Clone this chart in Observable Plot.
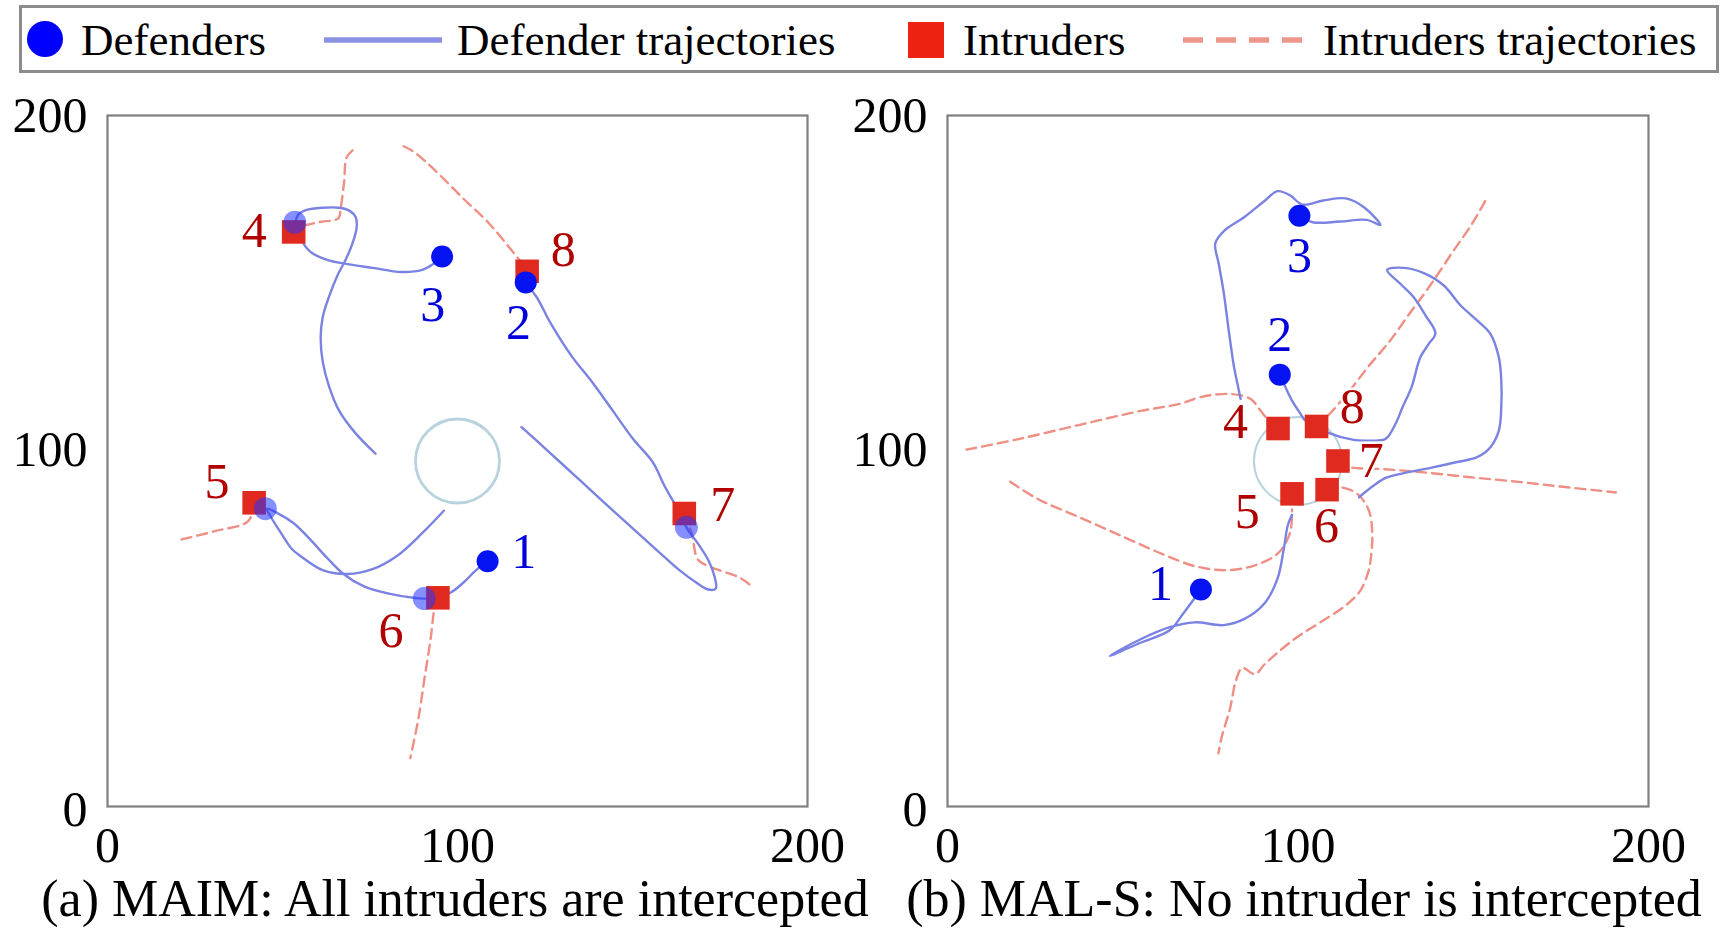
<!DOCTYPE html>
<html>
<head>
<meta charset="utf-8">
<script src="https://cdn.jsdelivr.net/npm/d3@7"></script>
<script src="https://cdn.jsdelivr.net/npm/@observablehq/plot@0.6"></script>
<style>
html, body { margin: 0; padding: 0; background: #fff; }
#fig { position: relative; width: 1732px; height: 934px; overflow: hidden; background: #fff;
  font-family: "Liberation Serif", "Times New Roman", serif; }
#fig > svg, #fig > div { position: absolute; }
</style>
</head>
<body>
<div id="fig"></div>
<script>
// ---------------- Legend & captions ----------------
const legendLabels = ["Defenders", "Defender trajectories", "Intruders", "Intruders trajectories"];
const captions = ["(a) MAIM: All intruders are intercepted", "(b) MAL-S: No intruder is intercepted"];
const xTicks = [0, 100, 200];
const yTicksEnds = [0, 200];
const yTickMid = [100];
const targetCenter = [[100, 100]];

// ---------------- Panel (a): MAIM ----------------
const aDefenderId = ["1", "2", "3"];
const aDefenderX = [108.6, 119.5, 95.6];
const aDefenderY = [71.0, 151.7, 159.2];
const aDefLabelX = [118.9, 117.4, 92.9];
const aDefLabelY = [73.8, 140.0, 145.2];
const aIntruderId = ["4", "5", "6", "7", "8"];
const aIntruderX = [53.2, 41.9, 94.4, 164.8, 119.9];
const aIntruderY = [166.3, 87.9, 60.4, 84.8, 154.9];
const aIntLabelX = [41.9, 31.3, 81.0, 175.8, 130.2];
const aIntLabelY = [166.7, 93.8, 50.7, 87.3, 161.2];
// defenders at interception moments (translucent)
const aCaptureX = [53.5, 45.1, 90.5, 165.4];
const aCaptureY = [169.1, 86.2, 60.2, 80.8];

const aDefTraj1 = [[96.1,85.6],[89.9,79.1],[82.8,72.6],[75.7,68.7],[68.6,67.3],[61.5,68.4],[55.0,72.6],[52.6,74.6],[49.6,79.1],[46.7,83.8],[45.5,86.2],[48.4,85.0],[53.2,82.0],[57.9,77.3],[62.7,72.0],[67.4,67.3],[73.3,63.7],[80.4,61.6],[87.5,60.4],[93.5,60.2],[98.2,62.0],[101.8,64.9],[105.3,68.4],[108.6,71.0]];
const aDefTraj2 = [[118.3,109.8],[125.4,103.3],[133.7,95.6],[142.0,87.9],[150.3,80.3],[157.4,73.8],[163.4,68.4],[168.1,64.9],[171.6,62.8],[173.8,63.1],[173.4,66.7],[171.6,71.4],[168.7,76.1],[165.7,80.3],[162.8,86.2],[159.2,92.7],[155.7,99.8],[150.3,106.2],[144.4,114.5],[138.5,122.8],[132.5,130.5],[126.6,139.9],[122.5,147.6],[120.1,150.5]];
const aDefTraj3 = [[76.6,102.1],[70.9,108.0],[66.2,114.5],[63.3,121.6],[61.5,128.7],[60.9,135.8],[61.5,141.7],[63.3,147.6],[65.6,153.5],[68.0,158.2],[70.0,163.0],[71.2,167.7],[70.9,170.6],[69.2,172.4],[66.2,173.3],[61.5,173.3],[56.7,172.6],[54.4,171.2],[53.8,168.3],[55.0,164.7],[57.9,160.6],[62.7,158.2],[68.6,157.0],[75.7,155.9],[84.0,154.7],[89.9,155.3],[93.5,157.3],[95.6,159.2]];
const aIntTraj4 = [[70.0,189.9],[68.3,187.8],[67.6,180.7],[66.6,173.0],[66.0,170.3],[60.3,169.1],[55.0,167.7],[53.2,166.3]];
const aIntTraj5 = [[21.2,77.3],[30.7,79.7],[40.2,82.6],[41.9,87.9]];
const aIntTraj6 = [[94.4,60.4],[93.5,57.8],[92.3,48.4],[90.5,36.6],[88.7,24.7],[86.5,14.0]];
const aIntTraj7 = [[164.8,84.8],[166.9,79.1],[168.7,71.4],[171.6,69.6],[180.9,66.1],[183.7,64.0]];
const aIntTraj8 = [[84.6,191.1],[87.5,189.5],[93.5,184.2],[101.7,175.9],[108.9,168.9],[114.8,161.8],[118.9,156.5],[119.9,154.9]];

// ---------------- Panel (b): MAL-S ----------------
const bDefenderId = ["1", "2", "3"];
const bDefenderX = [72.3, 94.8, 100.4];
const bDefenderY = [62.8, 125.0, 171.0];
const bDefLabelX = [60.8, 94.8, 100.4];
const bDefLabelY = [64.3, 136.4, 159.4];
const bIntruderId = ["4", "5", "6", "7", "8"];
const bIntruderX = [94.3, 98.3, 108.3, 111.4, 105.3];
const bIntruderY = [109.4, 90.5, 91.7, 100.0, 110.0];
const bIntLabelX = [82.2, 85.5, 108.1, 120.9, 115.5];
const bIntLabelY = [111.2, 85.2, 81.3, 99.9, 115.6];
const bCaptureX = [];
const bCaptureY = [];

const bDefTraj1 = [[98.3,84.4],[97.1,81.4],[95.9,74.3],[94.2,66.1],[90.6,59.0],[84.7,54.3],[78.8,52.5],[70.5,53.3],[63.4,51.9],[55.1,48.4],[46.3,43.6],[55.1,47.4],[63.4,51.0],[67.0,55.5],[72.3,62.8]];
const bDefTraj2 = [[117.4,89.5],[121.6,92.9],[125.0,95.1],[130.2,96.5],[137.8,98.0],[145.4,99.7],[151.1,101.1],[154.9,104.0],[157.3,108.8],[158.0,115.6],[158.0,123.3],[157.3,130.0],[154.9,136.8],[151.1,140.7],[146.4,145.0],[141.6,150.8],[135.9,154.4],[130.2,155.9],[125.4,155.3],[129.2,151.3],[133.0,147.4],[136.4,142.1],[139.2,137.0],[137.3,133.9],[134.9,130.0],[132.4,121.4],[129.8,115.5],[127.8,110.7],[125.0,106.4],[120.5,105.9],[115.9,106.1],[108.3,108.3],[102.1,111.7],[100.7,113.7],[98.3,117.5],[96.4,121.4],[94.8,125.0]];
const bDefTraj3 = [[83.6,118.0],[82.9,121.5],[81.7,127.5],[80.2,138.1],[78.8,148.8],[77.4,157.0],[76.4,163.0],[78.8,166.5],[84.7,170.6],[90.6,175.4],[94.2,178.1],[97.7,176.9],[101.3,174.2],[107.2,175.4],[113.7,176.0],[119.0,173.3],[123.5,168.3],[119.6,169.8],[111.9,169.3],[104.2,169.1],[100.4,171.0]];
const bIntTraj4 = [[5.4,103.3],[19.6,106.2],[37.4,110.4],[55.1,114.5],[66.5,116.6],[72.2,118.5],[80.7,119.4],[86.4,118.0],[89.3,114.6],[91.2,112.2],[94.3,109.4]];
const bIntTraj5 = [[17.9,94.0],[25.6,89.1],[37.4,83.8],[49.2,78.5],[61.0,73.2],[70.5,69.6],[78.8,68.4],[87.1,69.6],[94.2,73.2],[97.7,79.1],[98.3,86.0]];
const bIntTraj6 = [[108.3,91.7],[112.1,92.4],[116.9,90.5],[120.2,85.7],[121.2,78.9],[120.7,71.2],[120.2,68.4],[117.8,62.5],[113.1,57.8],[106.0,53.1],[98.9,48.4],[90.6,41.3],[87.7,38.3],[84.1,40.1],[82.3,36.5],[80.6,28.3],[78.2,20.0],[77.3,15.4]];
const bIntTraj7 = [[111.4,100.0],[115.0,98.2],[123.5,97.7],[134.9,96.8],[149.2,95.3],[163.5,93.9],[174.9,92.6],[190.7,90.9]];
const bIntTraj8 = [[105.3,110.0],[109.0,113.6],[114.3,119.8],[120.2,127.5],[126.1,134.6],[132.0,142.9],[137.9,151.1],[143.8,160.0],[149.8,168.9],[154.0,176.3]];

// ---------------- Styles ----------------
const C = {
  defender: "#0512f2", defTraj: "#7b83e2", intruder: "#e02a1f", intTraj: "#ef8f84",
  defLabel: "#0000dd", intLabel: "#b00000", target: "#b9d3de", frame: "#7f7f7f"
};
const FONT = '"Liberation Serif", "Times New Roman", serif';

const fig = document.getElementById("fig");

function flatten(trajs) {
  return trajs.flatMap((pts, i) => pts.map(([x, y]) => ({x, y, id: i})));
}
function pts(ids, xs, ys) { return ids.map((id, i) => ({id, x: xs[i], y: ys[i]})); }

function panel(p) {
  const defs = pts(p.defId, p.defX, p.defY);
  const defLabels = pts(p.defId, p.defLX, p.defLY);
  const ints = pts(p.intId, p.intX, p.intY);
  const intLabels = pts(p.intId, p.intLX, p.intLY);
  const caps = p.capX.map((x, i) => ({x, y: p.capY[i]}));
  const axisOpts = {tickSize: 0, tickPadding: 20, label: null, tickFormat: d => String(d), fontSize: 50};
  const svg = Plot.plot({
    width: p.width, height: 796,
    marginLeft: p.marginLeft, marginRight: p.marginRight, marginTop: 35, marginBottom: 70,
    style: {fontFamily: FONT, fontSize: "50px", color: "black", background: "transparent", overflow: "visible", maxWidth: "none"},
    x: {domain: [0, 200], ticks: xTicks, tickSize: 0, tickPadding: 20, label: null, tickFormat: d => String(d)},
    y: {domain: [0, 200], axis: null},
    marks: [
      Plot.axisY({...axisOpts, ticks: [yTicksEnds[0]], dy: 3}),
      Plot.axisY({...axisOpts, ticks: [yTicksEnds[1]]}),
      Plot.axisY({...axisOpts, ticks: yTickMid, dy: -11}),
      Plot.frame({stroke: C.frame, strokeWidth: 2.2}),
      Plot.dot(targetCenter, {x: d => d[0], y: d => d[1], r: p.targetR, stroke: C.target, strokeWidth: p.targetW, fill: "none"}),
      Plot.line(flatten(p.intTraj), {x: "x", y: "y", z: "id", stroke: C.intTraj, strokeWidth: 2.4, strokeDasharray: "10,6", curve: "catmull-rom"}),
      Plot.line(flatten(p.defTraj), {x: "x", y: "y", z: "id", stroke: C.defTraj, strokeWidth: 2.4, curve: "catmull-rom"}),
      Plot.dot(ints, {x: "x", y: "y", symbol: "square", r: 13.3, fill: C.intruder, stroke: null}),
      Plot.dot(caps, {x: "x", y: "y", r: 11.5, fill: "#2233ff", fillOpacity: 0.55, stroke: null}),
      Plot.dot(defs, {x: "x", y: "y", r: 11, fill: C.defender, stroke: null}),
      Plot.text(defLabels, {x: "x", y: "y", text: "id", fill: C.defLabel, fontSize: 50, stroke: "white", strokeWidth: 5, paintOrder: "stroke"}),
      Plot.text(intLabels, {x: "x", y: "y", text: "id", fill: C.intLabel, fontSize: 50, stroke: "white", strokeWidth: 5, paintOrder: "stroke"})
    ]
  });
  svg.style.left = p.left + "px";
  svg.style.top = "80px";
  svg.style.position = "absolute";
  fig.appendChild(svg);
}

panel({
  left: 0, width: 860, marginLeft: 107, marginRight: 53, targetR: 42, targetW: 2.8,
  defId: aDefenderId, defX: aDefenderX, defY: aDefenderY, defLX: aDefLabelX, defLY: aDefLabelY,
  intId: aIntruderId, intX: aIntruderX, intY: aIntruderY, intLX: aIntLabelX, intLY: aIntLabelY,
  capX: aCaptureX, capY: aCaptureY,
  defTraj: [aDefTraj1, aDefTraj2, aDefTraj3],
  intTraj: [aIntTraj4, aIntTraj5, aIntTraj6, aIntTraj7, aIntTraj8]
});
panel({
  left: 860, width: 872, marginLeft: 87, marginRight: 84, targetR: 44, targetW: 2,
  defId: bDefenderId, defX: bDefenderX, defY: bDefenderY, defLX: bDefLabelX, defLY: bDefLabelY,
  intId: bIntruderId, intX: bIntruderX, intY: bIntruderY, intLX: bIntLabelX, intLY: bIntLabelY,
  capX: bCaptureX, capY: bCaptureY,
  defTraj: [bDefTraj1, bDefTraj2, bDefTraj3],
  intTraj: [bIntTraj4, bIntTraj5, bIntTraj6, bIntTraj7, bIntTraj8]
});

// Legend (above)
const leg = d3.select(fig).append("svg").attr("width", 1732).attr("height", 80)
  .style("left", "0px").style("top", "0px").style("font-family", FONT);
leg.append("rect").attr("x", 20.5).attr("y", 6.5).attr("width", 1697).attr("height", 65)
  .attr("fill", "none").attr("stroke", "#8c8c8c").attr("stroke-width", 3);
leg.append("circle").attr("cx", 45).attr("cy", 39).attr("r", 18).attr("fill", "#0000ff");
leg.append("line").attr("x1", 324).attr("x2", 442).attr("y1", 40).attr("y2", 40)
  .attr("stroke", "#8a90e6").attr("stroke-width", 5.5);
leg.append("rect").attr("x", 908).attr("y", 22).attr("width", 36).attr("height", 36).attr("fill", "#ee2211");
leg.append("line").attr("x1", 1183).attr("x2", 1305).attr("y1", 40).attr("y2", 40)
  .attr("stroke", "#ee968a").attr("stroke-width", 5.5).attr("stroke-dasharray", "20,13");
const legX = [81, 457, 963, 1323];
leg.selectAll("text.l").data(legendLabels).join("text").attr("class", "l")
  .attr("x", (d, i) => legX[i]).attr("y", 55).attr("font-size", 45).attr("fill", "black").text(d => d);

// Captions (below)
const cap = d3.select(fig).append("svg").attr("width", 1732).attr("height", 70)
  .style("left", "0px").style("top", "864px").style("font-family", FONT);
const capX = [455, 1304];
cap.selectAll("text").data(captions).join("text")
  .attr("x", (d, i) => capX[i]).attr("y", 52).attr("text-anchor", "middle")
  .attr("font-size", 52).attr("fill", "black").text(d => d);
</script>
</body>
</html>
